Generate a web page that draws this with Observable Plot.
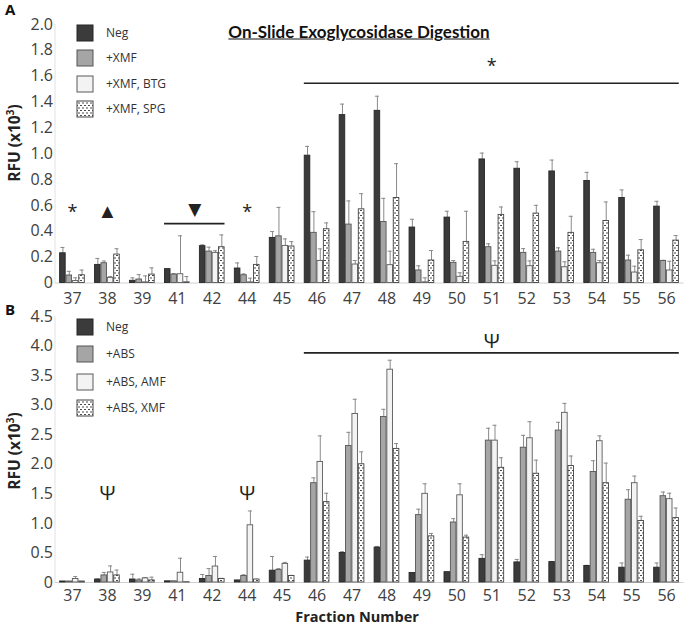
<!DOCTYPE html>
<html><head><meta charset="utf-8">
<script src="https://cdn.jsdelivr.net/npm/d3@7"></script>
<script src="https://cdn.jsdelivr.net/npm/@observablehq/plot@0.6"></script>
<style>
body{margin:0;background:#fff;}
#wrap{position:relative;width:685px;height:626px;overflow:hidden;font-family:"Open Sans",sans-serif;color:#333;}
.abs{position:absolute;line-height:1;}
.panel-label{font-weight:bold;font-size:15px;color:#111;font-family:"Open Sans",sans-serif;}
.ylab{font-weight:bold;font-size:15.5px;color:#222;transform:translate(-50%,-50%) rotate(-90deg);white-space:nowrap;}
.title{font-family:Lato,sans-serif;font-weight:bold;font-size:17px;text-decoration:underline;color:#111;transform:translate(-50%,-50%);white-space:nowrap;}
.xlab{font-weight:bold;font-size:14.5px;color:#222;transform:translate(-50%,-50%);white-space:nowrap;}
.leg{font-size:12px;color:#333;white-space:nowrap;transform:translateY(-50%);}
</style></head><body>
<svg width="0" height="0" style="position:absolute">
  <defs>
    <pattern id="dash" width="4" height="5" patternUnits="userSpaceOnUse">
      <rect width="4" height="5" fill="#fff"/>
      <rect x="0" y="0" width="2" height="1" fill="#4a4a4a"/>
      <rect x="2" y="2.5" width="2" height="1" fill="#4a4a4a"/>
    </pattern>
  </defs>
</svg>
<div id="wrap"></div>
<script>
// ---------- data ----------
const fractions = ["37","38","39","41","42","44","45","46","47","48","49","50","51","52","53","54","55","56"];

// Panel A
const seriesA = ["Neg", "+XMF", "+XMF, BTG", "+XMF, SPG"];
const negA    = [0.23, 0.14, 0.017, 0.107, 0.285, 0.112, 0.349, 0.985, 1.299, 1.332, 0.429, 0.506, 0.956, 0.884, 0.863, 0.789, 0.658, 0.591];
const negErrA = [0.045, 0.05, 0.023, 0.003, 0.01, 0.043, 0.049, 0.072, 0.085, 0.113, 0.064, 0.049, 0.049, 0.054, 0.088, 0.067, 0.062, 0.041];
const xmfA    = [0.058, 0.153, 0.027, 0.065, 0.243, 0.06, 0.361, 0.388, 0.452, 0.472, 0.097, 0.156, 0.277, 0.233, 0.243, 0.233, 0.174, 0.171];
const xmfErrA = [0.032, 0.017, 0.038, 0.008, 0.034, 0.01, 0.224, 0.164, 0.183, 0.183, 0.036, 0.018, 0.026, 0.033, 0.029, 0.028, 0.041, 0.004];
const btgA    = [0.015, 0.04, 0.005, 0.068, 0.233, 0.005, 0.287, 0.171, 0.143, 0.138, 0.005, 0.048, 0.133, 0.13, 0.122, 0.153, 0.081, 0.097];
const btgErrA = [0.025, 0.01, 0.05, 0.297, 0.017, 0.032, 0.054, 0.093, 0.031, 0.108, 0.035, 0.031, 0.038, 0.041, 0.042, 0.021, 0.049, 0.071];
const spgA    = [0.06, 0.22, 0.065, 0.005, 0.277, 0.14, 0.282, 0.416, 0.57, 0.658, 0.174, 0.318, 0.527, 0.537, 0.388, 0.48, 0.253, 0.328];
const spgErrA = [0.04, 0.045, 0.052, 0.045, 0.095, 0.065, 0.038, 0.049, 0.121, 0.265, 0.077, 0.237, 0.061, 0.064, 0.128, 0.147, 0.083, 0.039];
const ticksA  = [0, 0.2, 0.4, 0.6, 0.8, 1.0, 1.2, 1.4, 1.6, 1.8, 2.0];
const markFracA = ["37", "38", "44", "51"];
const markYA    = [0.55, 0.555, 0.55, 1.675];
const markTxtA  = ["*", "▲", "*", "*"];
const spanFromA = ["41", "46"];
const spanToA   = ["42", "56"];
const spanYA    = [0.459, 1.546];
const downMarkY = 0.57;

// Panel B
const seriesB = ["Neg", "+ABS", "+ABS, AMF", "+ABS, XMF"];
const negB    = [0.017, 0.05, 0.05, 0.02, 0.06, 0.035, 0.2, 0.37, 0.5, 0.59, 0.16, 0.175, 0.4, 0.34, 0.345, 0.28, 0.25, 0.25];
const negErrB = [0, 0.01, 0.09, 0, 0.075, 0, 0.24, 0.06, 0.02, 0.02, 0, 0, 0.07, 0.05, 0.01, 0.01, 0.08, 0.08];
const absB    = [0.017, 0.12, 0.035, 0.02, 0.11, 0.11, 0.21, 1.68, 2.31, 2.8, 1.14, 1.015, 2.4, 2.28, 2.57, 1.87, 1.4, 1.46];
const absErrB = [0, 0.05, 0.025, 0, 0.125, 0.02, 0.025, 0.09, 0.23, 0.13, 0.1, 0.065, 0.21, 0.21, 0.14, 0.19, 0.17, 0.07];
const amfB    = [0.06, 0.17, 0.07, 0.165, 0.27, 0.968, 0.315, 2.04, 2.85, 3.6, 1.5, 1.475, 2.4, 2.44, 2.87, 2.39, 1.68, 1.41];
const amfErrB = [0.04, 0.11, 0.015, 0.245, 0.17, 0.242, 0.025, 0.44, 0.25, 0.16, 0.17, 0.195, 0.26, 0.28, 0.16, 0.09, 0.12, 0.1];
const xmfB    = [0.017, 0.12, 0.035, 0.005, 0.06, 0.05, 0.11, 1.36, 2.0, 2.26, 0.78, 0.76, 1.94, 1.84, 1.97, 1.68, 1.04, 1.09];
const xmfErrB = [0, 0.09, 0.055, 0, 0.01, 0.005, 0.01, 0.15, 0.21, 0.09, 0.05, 0.04, 0.17, 0.23, 0.17, 0.34, 0.08, 0.17];
const ticksB  = [0, 0.5, 1.0, 1.5, 2.0, 2.5, 3.0, 3.5, 4.0, 4.5];
const markFracB = ["38", "44", "51"];
const markYB    = [1.5, 1.5, 4.07];
const markTxtB  = ["Ψ", "Ψ", "Ψ"];
const spanFromB = ["46"];
const spanToB   = ["56"];
const spanYB    = [3.885];

// ---------- styling ----------
const fills   = ["#3b3b3b", "#a5a5a5", "#f3f3f3", "url(#dash)"];
const strokes = ["#262626", "#555555", "#5a5a5a", "#444444"];
const W = 685, ML = 54.5, MR = 1.5, PAD = 0.27;
const step = (W - ML - MR) / fractions.length;
const bw = step * (1 - PAD);
const slot = bw / 4;

const wrap = document.getElementById("wrap");
function addDiv(cls, text, left, top, extra) {
  const d = document.createElement("div");
  d.className = "abs " + cls;
  d.textContent = text;
  d.style.left = left + "px";
  d.style.top = top + "px";
  if (extra) Object.assign(d.style, extra);
  wrap.appendChild(d);
  return d;
}

function panel(cfg) {
  const {values, errors, ticks, yMax, top, height, mt, mb, marks, spans, extra, tickPad} = cfg;
  const rows = [];
  values.forEach((arr, k) => arr.forEach((v, i) => rows.push({fraction: fractions[i], k, value: v, err: errors[k][i]})));
  const markList = [
    Plot.ruleX([fractions[0]], {x: d => d, y1: 0, y2: yMax, dx: -step / 2, stroke: "#e2e2e2", strokeWidth: 1}),
    Plot.ruleY([0], {stroke: "#d0d0d0", strokeWidth: 1}),
    Plot.axisY(ticks, {tickSize: 0, tickPadding: 2, fontSize: 16, fill: "#404040", label: null,
      tickFormat: d => d === 0 ? "0" : d.toFixed(1)}),
    Plot.axisX({tickSize: 0, tickPadding: tickPad, fontSize: 16, fill: "#404040", label: null})
  ];
  for (let k = 0; k < 4; k++) {
    const data = rows.filter(d => d.k === k);
    const off = (k - 1.5) * slot;
    const withErr = data.filter(d => d.err > 0);
    markList.push(Plot.ruleX(withErr, {x: "fraction", y1: "value", y2: d => d.value + d.err, dx: off, stroke: "#8a8a8a", strokeWidth: 1}));
    markList.push(Plot.tickY(withErr, {x: "fraction", y: d => d.value + d.err, dx: off, insetLeft: bw / 2 - 2, insetRight: bw / 2 - 2, stroke: "#8a8a8a", strokeWidth: 1}));
    markList.push(Plot.barY(data, {x: "fraction", y: "value", fill: fills[k], stroke: strokes[k], strokeWidth: 0.9,
      insetLeft: k * slot + 0.4, insetRight: (3 - k) * slot + 0.4}));
  }
  markList.push(Plot.ruleY(spans, {x1: "from", x2: "to", y: "y", stroke: "#222", strokeWidth: 1.6}));
  markList.push(Plot.text(marks, {x: "x", y: "y", text: "t",
    fontSize: d => d.t === "Ψ" ? 20 : (d.t === "*" ? 18 : 20),
    fill: "#222", fontFamily: d => d.t === "Ψ" ? "DejaVu Serif" : "DejaVu Sans"}));
  if (extra) markList.push(...extra);
  const svg = Plot.plot({
    width: W, height, marginLeft: ML, marginRight: MR, marginTop: mt, marginBottom: mb,
    style: {fontFamily: "'Open Sans', sans-serif", background: "transparent", overflow: "visible"},
    x: {domain: fractions, paddingInner: PAD, paddingOuter: PAD / 2, round: false, align: 0.5},
    y: {domain: [0, yMax]},
    marks: markList
  });
  svg.style.position = "absolute";
  svg.style.left = "0px";
  svg.style.top = top + "px";
  wrap.appendChild(svg);
}

function toObjs(xs, ys, ts) { return xs.map((x, i) => ({x, y: ys[i], t: ts[i]})); }
function toSpans(a, b, ys) { return a.map((f, i) => ({from: f, to: b[i], y: ys[i]})); }

panel({
  values: [negA, xmfA, btgA, spgA], errors: [negErrA, xmfErrA, btgErrA, spgErrA],
  ticks: ticksA, yMax: 2.0, top: 0, height: 305, mt: 24, mb: 22.5, tickPad: 10,
  marks: toObjs(markFracA, markYA, markTxtA), spans: toSpans(spanFromA, spanToA, spanYA),
  extra: [Plot.text([{x: "42", y: downMarkY, t: "▼"}], {x: "x", y: "y", text: "t", dx: -step / 2, fontSize: 17, fill: "#222", fontFamily: "DejaVu Sans"})]
});
panel({
  values: [negB, absB, amfB, xmfB], errors: [negErrB, absErrB, amfErrB, xmfErrB],
  ticks: ticksB, yMax: 4.5, top: 300, height: 326, mt: 16, mb: 44, tickPad: 7,
  marks: toObjs(markFracB, markYB, markTxtB), spans: toSpans(spanFromB, spanToB, spanYB)
});

// ---------- text & legends ----------
addDiv("panel-label", "A", 5, 2);
addDiv("panel-label", "B", 5, 302);
addDiv("title", "On-Slide Exoglycosidase Digestion", 359, 31);
const yl1 = addDiv("ylab", "", 15, 143); yl1.innerHTML = "RFU (x10<sup style='font-size:10px;line-height:0'>3</sup>)";
const yl2 = addDiv("ylab", "", 15, 451); yl2.innerHTML = "RFU (x10<sup style='font-size:10px;line-height:0'>3</sup>)";
addDiv("xlab", "Fraction Number", 357, 617);

function legend(series, x0, ys) {
  series.forEach((s, k) => {
    const sw = document.createElementNS("http://www.w3.org/2000/svg", "svg");
    sw.setAttribute("width", 18); sw.setAttribute("height", 18);
    sw.style.position = "absolute"; sw.style.left = (x0 - 1) + "px"; sw.style.top = (ys[k] - 9) + "px";
    sw.innerHTML = `<rect x="1" y="1" width="16" height="16" fill="${fills[k]}" stroke="${strokes[k]}" stroke-width="1"/>`;
    wrap.appendChild(sw);
    addDiv("leg", s, x0 + 29, ys[k]);
  });
}
legend(seriesA, 77, [33, 58, 84, 109]);
legend(seriesB, 77, [327, 354, 382, 408]);
</script>
</body></html>
